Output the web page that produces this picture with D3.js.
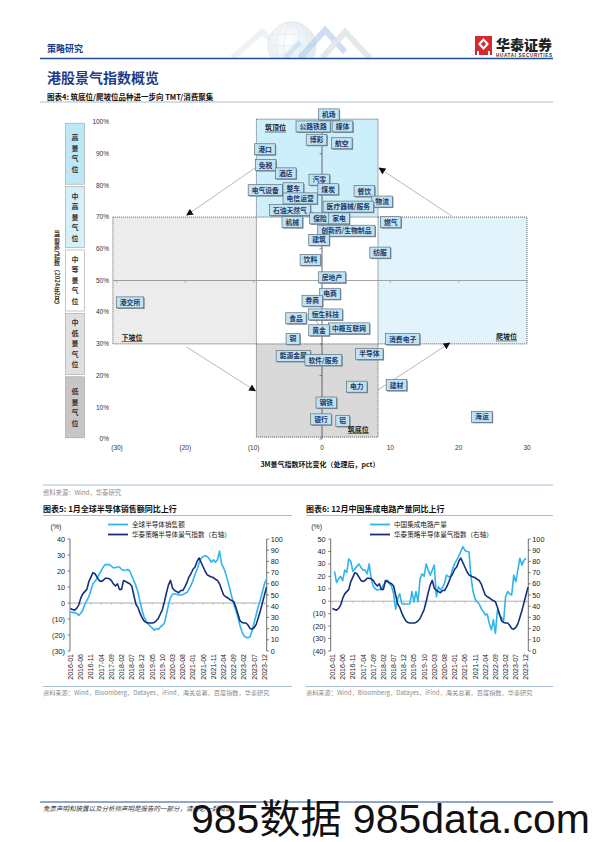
<!DOCTYPE html>
<html><head><meta charset="utf-8">
<script src="https://cdn.jsdelivr.net/npm/d3@7"></script>
<style>body{margin:0;background:#fff}svg{display:block}</style>
</head><body><svg id="c" width="596" height="842"></svg>
<script>
// ---------------- DATA ----------------
const industries = ["机场","公路铁路","媒体","博彩","航空","港口","免税","酒店","汽零","煤炭","餐饮","电气设备","整车","电信运营","物流","医疗器械/服务","石油天然气","机械","保险","家电","燃气","创新药/生物制品","建筑","纺服","饮料","房地产","电商","券商","恒生科技","食品","中概互联网","黄金","铜","消费电子","半导体","能源金属","软件/服务","电力","建材","钢铁","银行","铝","海运","港交所"];
const momChange = [1.0,-1.3,3.0,-0.8,2.9,-8.35,-8.25,-5.3,-0.4,0.9,6.2,-8.3,-4.2,-3.2,8.8,3.85,-4.7,-4.35,-0.3,2.5,10.05,3.56,-0.44,8.5,-1.7,1.46,1.17,-1.42,0.49,-3.8,3.95,-0.44,-4.25,11.8,6.93,-4.2,0.2,5.08,10.9,0.63,-0.15,3.03,23.4,-28.1];
const boomLevel = [102.4,98.6,98.6,94.4,93.3,91.4,86.4,83.8,81.8,78.8,78.2,78.5,79.1,75.9,74.9,73.3,72.2,68.4,69.6,69.6,68.4,65.7,62.8,58.8,56.5,51.0,45.8,43.6,39.3,38.1,34.9,34.3,31.6,31.5,26.8,26.2,24.9,16.5,17.0,11.5,6.2,5.7,7.0,43.1];
const xTickValues = [-30,-20,-10,0,10,20,30];
const yTickValues = [0,10,20,30,40,50,60,70,80,90,100];
const bandNames = ["高景气位","中高景气位","中等景气位","中低景气位","低景气位"];
const bandHi = [100,80,60,40,20];
const bandLo = [80,60,40,20,0];

// monthly series 2016-01 .. 2024-01 (index 0..96)
const boomIndex = [38,37,36.5,38,41,47,51,53,55,62, 66,70,69,66,63,62,63,65,65,64.5, 63,60,58,60,55,55,63,62,61,60, 58,50,42,39,34,30,27,25.5,25,25, 25,25.5,27,29,33,37,44,52,59,63, 56,54,53,52,54,54,57,61,66,69, 73,75,80,83,79,75,71,68,67,66, 65.5,64,63,60,55,50,48.5,47.5,46,45, 44,39,33,27,25.5,25,25,23,20,19.5, 21,24,30,36,43,50,57];
const semiSales = [-5.6,-6,-6,-6.5,-7.7,-6.5,-4.5,-1,1.5,4, 8,12,13.5,15.5,18,20,22.5,24,24,24, 23,22,22,22.5,22.5,21,20.5,20.5,21,20, 17,14,11,7,1,-4.5,-8.5,-11,-13,-14.5, -15.5,-17,-16,-16.5,-15,-14,-12.5,-7,-1,3.5, 5.5,5.8,5.5,5,5,5.2,6,6.5,8.5,11, 14,18,21,25,28,29,29.5,29,27.5,25.5, 27,25.5,27,32.5,24.5,22,18.5,14,9,4, -1,-4.5,-9,-14,-18,-20.5,-21.5,-21.7,-21,-17, -12,-7,-2,2,7,12,15];
const icOutput = [null,24,15,18,20,16.5,25,23,34,32, 24,26,28,30,27,25,25,22,30,18, 12,10,9,9.5,9.5,13,15,17,14,12, 6,-6.5,2,6,-2,-2.2,-2.2,-2.2,-2,7.7, -0.4,7.7,-0.4,18,22,20,30,25,21,25, 29,3.6,11.7,9,11,14.4,21,19.7,20,26, 30.4,33,36,40,43.8,41,40,39.8,19.7,8, 2,-0.4,-2,-5.8,-8,-11,-10.3,-18,-23,-15, -25.8,-7,-11,-13,-16.5,3.6,7.7,6,5,21, 15.7,25,34.5,29,33,34.5];
const dateTickLabels = ["2016-01","2016-06","2016-11","2017-04","2017-09","2018-02","2018-07","2018-12","2019-05","2019-10","2020-03","2020-08","2021-01","2021-06","2021-11","2022-04","2022-09","2023-02","2023-07","2023-12"];
const dateTickIndex = [0,5,10,15,20,25,30,35,40,45,50,55,60,65,70,75,80,85,90,95];

// ---------------- SETUP ----------------
const CJK = "'Noto Sans CJK SC','Noto Sans',sans-serif";
const LAT = "'Liberation Sans',Arial,'Noto Sans CJK SC',sans-serif";
const svg = d3.select("#c");
const defs = svg.append("defs");
defs.append("marker").attr("id","arr").attr("viewBox","0 0 10 10").attr("refX",9).attr("refY",5)
  .attr("markerWidth",7).attr("markerHeight",7).attr("markerUnits","userSpaceOnUse").attr("orient","auto")
  .append("path").attr("d","M0,0L10,5L0,10z").attr("fill","#111");
const rg = defs.append("radialGradient").attr("id","globe").attr("cx","40%").attr("cy","40%").attr("r","60%");
rg.append("stop").attr("offset","0%").attr("stop-color","#ffffff");
rg.append("stop").attr("offset","100%").attr("stop-color","#dde6ee");
defs.append("clipPath").attr("id","hdrclip").append("rect").attr("x",200).attr("y",15).attr("width",250).attr("height",43);

// ---------------- HEADER ----------------
const hd = svg.append("g").attr("clip-path","url(#hdrclip)").attr("opacity",0.8);
hd.append("path").attr("d","M232,58 L262,32 L280,48").attr("fill","none").attr("stroke","#eceff3").attr("stroke-width",6);
hd.append("circle").attr("cx",292).attr("cy",46).attr("r",24).attr("fill","url(#globe)").attr("stroke","#d0dae4").attr("stroke-width",0.6);
[8,16].forEach(rx=>hd.append("ellipse").attr("cx",292).attr("cy",46).attr("rx",rx).attr("ry",24).attr("fill","none").attr("stroke","#d3dde7").attr("stroke-width",0.5));
[-12,0,12].forEach(dy=>hd.append("line").attr("x1",270).attr("x2",314).attr("y1",46+dy).attr("y2",46+dy).attr("stroke","#d3dde7").attr("stroke-width",0.5));
hd.append("path").attr("d","M300,58 L325,30 L345,52").attr("fill","none").attr("stroke","#a6c4e6").attr("stroke-width",6).attr("opacity",0.7);
hd.append("path").attr("d","M322,58 L345,32 L370,58").attr("fill","none").attr("stroke","#dde1e6").attr("stroke-width",6).attr("opacity",0.9);
hd.append("path").attr("d","M285,58 L300,42").attr("fill","none").attr("stroke","#b3d5f2").attr("stroke-width",5).attr("opacity",0.7);

svg.append("text").attr("x",47).attr("y",52).attr("font-family",CJK).attr("font-size",9).attr("font-weight",700).attr("fill","#1f3c88").text("策略研究");
svg.append("line").attr("x1",40).attr("x2",553).attr("y1",58.5).attr("y2",58.5).attr("stroke","#1f4e99").attr("stroke-width",1.6);
const lg = svg.append("g");
lg.append("rect").attr("x",475).attr("y",36).attr("width",17).attr("height",19).attr("fill","#d7282f");
lg.append("path").attr("d","M483.5,38 L489,44 L483.5,50 L478,44z").attr("fill","#fff");
lg.append("path").attr("d","M483.5,41 L486,44 L483.5,47 L481,44z").attr("fill","#d7282f");
lg.append("rect").attr("x",477).attr("y",51).attr("width",2).attr("height",4).attr("fill","#fff");
lg.append("rect").attr("x",488).attr("y",51).attr("width",2).attr("height",4).attr("fill","#fff");
svg.append("text").attr("x",496).attr("y",50).attr("font-family",CJK).attr("font-size",14).attr("font-weight",900).attr("fill","#222").text("华泰证券");
svg.append("text").attr("x",496).attr("y",56.5).attr("font-family",LAT).attr("font-size",4.6).attr("font-weight",700).attr("fill","#333").attr("textLength",56).text("HUATAI SECURITIES");

svg.append("text").attr("x",47).attr("y",83).attr("font-family",CJK).attr("font-size",14).attr("font-weight",700).attr("fill","#1f3c88").text("港股景气指数概览");
svg.append("text").attr("x",47).attr("y",99.5).attr("font-family",CJK).attr("font-size",7.5).attr("font-weight",700).attr("fill","#111").text("图表4:  筑底位/爬坡位品种进一步向 TMT/消费聚集");
svg.append("line").attr("x1",40).attr("x2",553).attr("y1",102).attr("y2",102).attr("stroke","#a9bdd4").attr("stroke-width",1);

// ---------------- SCATTER ----------------
const xS = d3.scaleLinear().domain([-30,30]).range([117,527]);
const yS = d3.scaleLinear().domain([0,100]).range([439,122]);
const sc = svg.append("g");
const quads = [
  {x0:-30.6,x1:-9.6,y0:30,y1:70,fill:"#ececec"},
  {x0:8.2,x1:30,y0:30,y1:70,fill:"#e2f3fb"},
  {x0:-9.6,x1:8.2,y0:70,y1:100.9,fill:"#cdeefb"},
  {x0:-9.6,x1:8.2,y0:0.6,y1:30,fill:"#d9d9d9"}];
quads.forEach(q=>{
  sc.append("rect").attr("x",xS(q.x0)).attr("y",yS(q.y1)).attr("width",xS(q.x1)-xS(q.x0)).attr("height",yS(q.y0)-yS(q.y1))
    .attr("fill",q.fill).attr("stroke","#333").attr("stroke-width",0.8).attr("stroke-dasharray","1,1");
});
sc.append("line").attr("x1",xS(-30.6)).attr("x2",xS(30)).attr("y1",yS(50)).attr("y2",yS(50)).attr("stroke","#8c8c8c").attr("stroke-width",0.8);
xTickValues.forEach(v=>sc.append("line").attr("x1",xS(v)).attr("x2",xS(v)).attr("y1",yS(50)).attr("y2",yS(50)+2.5).attr("stroke","#8c8c8c").attr("stroke-width",0.6));
sc.append("line").attr("x1",xS(0)).attr("x2",xS(0)).attr("y1",yS(0)).attr("y2",yS(102)).attr("stroke","#444").attr("stroke-width",0.8);
yTickValues.forEach(v=>sc.append("line").attr("x1",xS(0)-2.5).attr("x2",xS(0)).attr("y1",yS(v)).attr("y2",yS(v)).attr("stroke","#444").attr("stroke-width",0.6));
const arrows = [[-9.8,85.5,-19.8,70.6],[-19.8,29,-9.75,15.2],[8.2,15.5,18.7,30.3],[19.0,70.3,8.35,85.5]];
arrows.forEach(a=>sc.append("line").attr("x1",xS(a[0])).attr("y1",yS(a[1])).attr("x2",xS(a[2])).attr("y2",yS(a[3]))
  .attr("stroke","#9a9a9a").attr("stroke-width",0.7).attr("marker-end","url(#arr)"));
xTickValues.forEach(v=>sc.append("text").attr("x",xS(v)).attr("y",449.5).attr("text-anchor","middle").attr("font-family",LAT).attr("font-size",6.5).attr("fill","#333").text(v<0?`(${-v})`:v));
yTickValues.forEach(v=>sc.append("text").attr("x",109).attr("y",yS(v)).attr("dy","0.35em").attr("text-anchor","end").attr("font-family",LAT).attr("font-size",6.5).attr("fill","#333").text(v+"%"));
sc.append("text").attr("x",320).attr("y",467).attr("text-anchor","middle").attr("font-family",CJK).attr("font-size",7).attr("font-weight",700).attr("fill","#111").text("3M景气指数环比变化（处理后，pct）");
const bandFill = ["#bde8f8","#d6f0fa","#ffffff","#e0e0e0","#c6c6c6"];
bandNames.forEach((n,i)=>{
  const y1 = yS(bandHi[i])+1.2, y2 = yS(bandLo[i])-1.2;
  sc.append("rect").attr("x",65.5).attr("y",y1).attr("width",19).attr("height",y2-y1).attr("fill",bandFill[i]).attr("stroke","#a0a0a0").attr("stroke-width",0.6);
  const chars = Array.from(n), step = 10.5, c = (y1+y2)/2;
  chars.forEach((ch,k)=>sc.append("text").attr("x",75).attr("y",c+(k-(chars.length-1)/2)*step).attr("dy","0.35em").attr("text-anchor","middle")
    .attr("font-family",CJK).attr("font-size",7).attr("font-weight",700).attr("fill","#333").text(ch));
});
// vertical axis title (vertical writing mode)
sc.append("text").attr("x",57).attr("y",269).attr("text-anchor","middle").attr("writing-mode","tb")
  .style("writing-mode","vertical-rl").style("text-orientation","mixed")
  .attr("font-family",CJK).attr("font-size",6).attr("font-weight",700).attr("fill","#333").text("当前景气指数（2024年2月）");
sc.append("line").attr("x1",xS(-2.0)).attr("y1",yS(72.2)).attr("x2",xS(-0.6)).attr("y2",yS(70.6)).attr("stroke","#555").attr("stroke-width",0.5);
sc.append("line").attr("x1",xS(-1.0)).attr("y1",yS(37.6)).attr("x2",xS(-0.3)).attr("y2",yS(35.6)).attr("stroke","#555").attr("stroke-width",0.5);
industries.forEach((name,i)=>{
  const g = sc.append("g").attr("transform",`translate(${xS(momChange[i])},${yS(boomLevel[i])})`);
  const t = g.append("text").attr("text-anchor","middle").attr("dy","0.36em").attr("font-family",CJK).attr("font-size",6.8).attr("font-weight",700).attr("fill","#1f3864").text(name);
  const w = t.node().getComputedTextLength()+7, h = 11;
  g.insert("rect","text").attr("x",-w/2+1).attr("y",-h/2+1).attr("width",w).attr("height",h).attr("fill","#808890");
  g.insert("rect","text").attr("x",-w/2).attr("y",-h/2).attr("width",w).attr("height",h).attr("fill","#bfe4f5").attr("stroke","#5f6f7c").attr("stroke-width",0.7);
});
const qLabels = [["筑顶位",-6.8,98.2],["下坡位",-27.8,32.1],["爬坡位",27.0,32.3],["筑底位",5.3,3.1]];
qLabels.forEach(q=>{
  const t = sc.append("text").attr("x",xS(q[1])).attr("y",yS(q[2])).attr("dy","0.35em").attr("text-anchor","middle").attr("font-family",CJK).attr("font-size",7).attr("font-weight",700).attr("fill","#222").text(q[0]);
  const w = t.node().getComputedTextLength();
  sc.append("line").attr("x1",xS(q[1])-w/2).attr("x2",xS(q[1])+w/2).attr("y1",yS(q[2])+4.3).attr("y2",yS(q[2])+4.3).attr("stroke","#222").attr("stroke-width",0.6);
});
svg.append("line").attr("x1",43).attr("x2",553).attr("y1",485).attr("y2",485).attr("stroke","#a9bdd4").attr("stroke-width",1);
svg.append("text").attr("x",43).attr("y",495).attr("font-family",CJK).attr("font-size",6.3).attr("fill","#8a8a8a").text("资料来源：Wind，华泰研究");

// ---------------- LINE CHARTS ----------------
function lineChart(cfg){
  const g = svg.append("g");
  g.append("text").attr("x",cfg.tx).attr("y",512).attr("font-family",CJK).attr("font-size",8).attr("font-weight",700).attr("fill","#111").text(cfg.title);
  g.append("line").attr("x1",cfg.tx).attr("x2",cfg.tx2).attr("y1",515.5).attr("y2",515.5).attr("stroke","#a9bdd4").attr("stroke-width",1);
  const x = d3.scaleLinear().domain([0,96]).range([cfg.x0,cfg.x1]);
  const yL = d3.scaleLinear().domain(cfg.leftDomain).range([651,539]);
  const yR = d3.scaleLinear().domain([0,100]).range([651,539]);
  g.append("line").attr("x1",cfg.ax0).attr("x2",cfg.ax0).attr("y1",539).attr("y2",651).attr("stroke","#333").attr("stroke-width",0.7);
  g.append("line").attr("x1",cfg.ax1).attr("x2",cfg.ax1).attr("y1",539).attr("y2",651).attr("stroke","#333").attr("stroke-width",0.7);
  d3.range(cfg.leftDomain[0],cfg.leftDomain[1]+1,10).forEach(v=>{
    g.append("line").attr("x1",cfg.ax0-2.5).attr("x2",cfg.ax0).attr("y1",yL(v)).attr("y2",yL(v)).attr("stroke","#333").attr("stroke-width",0.6);
    g.append("text").attr("x",cfg.ax0-5).attr("y",yL(v)).attr("dy","0.35em").attr("text-anchor","end").attr("font-family",LAT).attr("font-size",7.3).attr("fill","#222").text(v<0?`(${-v})`:v);
  });
  d3.range(0,101,10).forEach(v=>{
    g.append("line").attr("x1",cfg.ax1).attr("x2",cfg.ax1+2.5).attr("y1",yR(v)).attr("y2",yR(v)).attr("stroke","#333").attr("stroke-width",0.6);
    g.append("text").attr("x",cfg.ax1+4).attr("y",yR(v)).attr("dy","0.35em").attr("font-family",LAT).attr("font-size",7.3).attr("fill","#222").text(v);
  });
  g.append("text").attr("x",cfg.ax0-14).attr("y",529).attr("text-anchor","middle").attr("font-family",LAT).attr("font-size",7).attr("fill","#222").text("(%)");
  g.append("line").attr("x1",cfg.ax0).attr("x2",cfg.ax1).attr("y1",yL(0)).attr("y2",yL(0)).attr("stroke","#9a9a9a").attr("stroke-width",0.8);
  dateTickIndex.forEach((m,i)=>{
    g.append("line").attr("x1",x(m)).attr("x2",x(m)).attr("y1",yL(0)).attr("y2",yL(0)+2).attr("stroke","#9a9a9a").attr("stroke-width",0.5);
    g.append("text").attr("transform",`translate(${x(m)},654) rotate(-90)`).attr("dy","0.35em").attr("text-anchor","end").attr("font-family",LAT).attr("font-size",7).attr("fill","#222").text(dateTickLabels[i]);
  });
  const lL = d3.line().defined(d=>d!=null).x((d,i)=>x(i)).y(d=>yL(d));
  const lR = d3.line().defined(d=>d!=null).x((d,i)=>x(i)).y(d=>yR(d));
  g.append("path").attr("d",lL(cfg.leftSeries)).attr("fill","none").attr("stroke","#30b4ee").attr("stroke-width",1.6).attr("stroke-linejoin","round");
  g.append("path").attr("d",lR(boomIndex)).attr("fill","none").attr("stroke","#14307a").attr("stroke-width",1.6).attr("stroke-linejoin","round");
  g.append("line").attr("x1",cfg.lx).attr("x2",cfg.lx+20).attr("y1",524.5).attr("y2",524.5).attr("stroke","#30b4ee").attr("stroke-width",1.8);
  g.append("text").attr("x",cfg.lx+24).attr("y",524.5).attr("dy","0.35em").attr("font-family",CJK).attr("font-size",6.6).attr("fill","#222").text(cfg.leftName);
  g.append("line").attr("x1",cfg.lx).attr("x2",cfg.lx+20).attr("y1",534.5).attr("y2",534.5).attr("stroke","#14307a").attr("stroke-width",1.8);
  g.append("text").attr("x",cfg.lx+24).attr("y",534.5).attr("dy","0.35em").attr("font-family",CJK).attr("font-size",6.6).attr("fill","#222").text("华泰策略半导体景气指数（右轴）");
  g.append("line").attr("x1",cfg.tx).attr("x2",cfg.tx2).attr("y1",686.5).attr("y2",686.5).attr("stroke","#a9bdd4").attr("stroke-width",1);
  g.append("text").attr("x",cfg.tx).attr("y",695).attr("font-family",CJK).attr("font-size",6.2).attr("fill","#8a8a8a").text("资料来源：Wind，Bloomberg，Datayes，iFind，海关总署，百度指数，华泰研究");
}
lineChart({title:"图表5:  1月全球半导体销售额同比上行",tx:43,tx2:292,x0:70.5,x1:266.5,ax0:70,ax1:266.7,leftDomain:[-30,40],leftSeries:semiSales,leftName:"全球半导体销售额",lx:108});
lineChart({title:"图表6:  12月中国集成电路产量同比上行",tx:306,tx2:553,x0:332.5,x1:528,ax0:330.7,ax1:528.3,leftDomain:[-40,50],leftSeries:icOutput,leftName:"中国集成电路产量",lx:370});

// ---------------- FOOTER ----------------
svg.append("line").attr("x1",40).attr("x2",553).attr("y1",802).attr("y2",802).attr("stroke","#1f4e99").attr("stroke-width",1);
svg.append("text").attr("x",43).attr("y",811).attr("font-family",CJK).attr("font-size",6.5).attr("font-style","italic").attr("fill","#333").text("免责声明和披露以及分析师声明是报告的一部分，请务必一起阅读。");
svg.append("text").attr("x",191).attr("y",833).attr("font-family",LAT).attr("font-size",40).attr("fill","#111").attr("textLength",399).attr("lengthAdjust","spacingAndGlyphs").text("985数据 985data.com");
</script></body></html>
